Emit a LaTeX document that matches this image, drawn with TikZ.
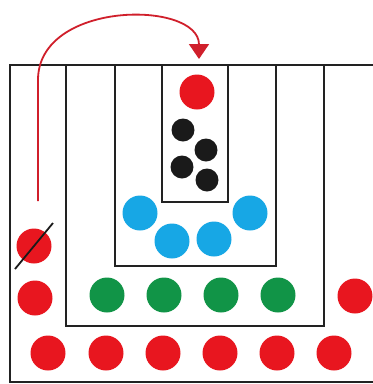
\documentclass[tikz,border=0pt]{standalone}
\usetikzlibrary{arrows.meta}
\definecolor{cred}{HTML}{E8161F}
\definecolor{cblue}{HTML}{17A7E5}
\definecolor{cgreen}{HTML}{119447}
\definecolor{cblack}{HTML}{1A1A1A}
\definecolor{carrow}{HTML}{D01F2B}
\definecolor{cbox}{HTML}{222222}
\tikzset{
  boxline/.style={draw=cbox, line width=1.8pt},
  ball/.style={circle, inner sep=0pt, minimum size=35pt, draw=none},
  smallball/.style={circle, inner sep=0pt, minimum size=23pt, draw=none, fill=cblack},
  redball/.style={ball, fill=cred},
  blueball/.style={ball, fill=cblue},
  greenball/.style={ball, fill=cgreen},
  movearrow/.style={draw=carrow, line width=1.8pt, -{Triangle[length=15pt,width=20pt]}},
  strike/.style={draw=cblack, line width=1.8pt}
}
\begin{document}
\begin{tikzpicture}[x=1pt,y=-1pt]
\clip (0,0) rectangle (373,384);
\fill[white] (0,0) rectangle (373,384);
% boxes
\draw[boxline] (400,65) -- (10,65) -- (10,382) -- (400,382);
\draw[boxline] (66,65) -- (66,326) -- (324,326) -- (324,65);
\draw[boxline] (115,65) -- (115,266) -- (276,266) -- (276,65);
\draw[boxline] (162,65) -- (162,202) -- (228,202) -- (228,65);
% inner box
\node[redball] (top) at (197,92) {};
\node[smallball] (k1) at (183,130) {};
\node[smallball] (k2) at (206,150) {};
\node[smallball] (k3) at (182,167) {};
\node[smallball] (k4) at (207,180) {};
% blue
\node[blueball] (b1) at (140,213) {};
\node[blueball] (b2) at (172,241) {};
\node[blueball] (b3) at (214,239) {};
\node[blueball] (b4) at (250,213) {};
% green
\node[greenball] (g1) at (107,295) {};
\node[greenball] (g2) at (164,295) {};
\node[greenball] (g3) at (221,295) {};
\node[greenball] (g4) at (278,295) {};
% red outer
\node[redball] (rr) at (355,296) {};
\node[redball] (rx) at (34,246) {};
\node[redball] (rl) at (35,298) {};
\node[redball] (d1) at (48,353) {};
\node[redball] (d2) at (106,353) {};
\node[redball] (d3) at (163,353) {};
\node[redball] (d4) at (220,353) {};
\node[redball] (d5) at (277,353) {};
\node[redball] (d6) at (334,353) {};
% strike through
\coordinate (s1) at (15,269);
\coordinate (s2) at (53,223);
\draw[strike] (s1) -- (s2);
% arrow
\coordinate (a0) at (38,201);
\coordinate (a1) at (38,80);
\coordinate (a2) at (199,59);
\draw[movearrow] (a0) -- (a1) .. controls (38,0) and (199,0) .. (a2);
\end{tikzpicture}
\end{document}
